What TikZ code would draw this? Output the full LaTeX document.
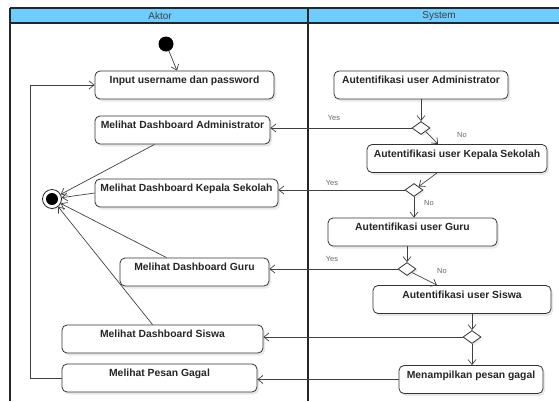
\documentclass[tikz,border=0pt]{standalone}
\usepackage{fontspec}
\setmainfont{Liberation Sans}
\usetikzlibrary{arrows.meta,shapes.geometric,shadows,calc}
\definecolor{hdr}{RGB}{110,204,255}
\begin{document}
\begin{tikzpicture}[x=1bp,y=-1bp,
  box/.style={draw=black!80, line width=0.8bp, rounded corners=5bp, fill=white,
    font=\fontsize{10.4}{12}\selectfont\bfseries, text=black!85, inner xsep=2bp, inner ysep=0pt,
    text height=12.5bp, text depth=15.5bp, minimum width=#1,
    drop shadow={shadow xshift=2bp, shadow yshift=-2.5bp, opacity=0.18}},
  dia/.style={diamond, draw=black!80, fill=white, line width=0.8bp,
    minimum width=18bp, minimum height=13bp, inner sep=0pt,
    drop shadow={shadow xshift=2bp, shadow yshift=-2bp, opacity=0.15}},
  arr/.style={draw=black!75, line width=0.7bp, -{Straight Barb[length=5bp,width=8bp]}},
  conn/.style={draw=black!75, line width=0.7bp},
  lbl/.style={font=\fontsize{7.5}{9}\selectfont, text=black!60, inner sep=0pt},
  hdrtext/.style={font=\fontsize{10}{12}\selectfont, text=black!75, inner sep=0pt},
  frame/.style={draw=black!85, line width=1.5bp}
]
\useasboundingbox (0,0) rectangle (559,401);
% swimlanes
\fill[hdr] (10,8) rectangle (559,23);
\draw[frame] (10,8) -- (559,8);
\draw[frame] (10,23) -- (559,23);
\draw[frame] (10,8) -- (10,401);
\draw[frame] (308,8) -- (308,401);
\node[hdrtext] (hA) at (160,16) {Aktor};
\node[hdrtext] (hS) at (439,16) {System};

% actor lane
\node[circle, fill=black, minimum size=15bp, inner sep=0pt] (start) at (166,44) {};
\node[box=179bp] (input)  at (184.5,85)  {Input username dan password};
\node[box=175bp] (vadmin) at (182.5,130) {Melihat Dashboard Administrator};
\node[box=183bp] (vks)    at (186.5,193) {Melihat Dashboard Kepala Sekolah};
\node[box=149bp] (vguru)  at (194.5,272) {Melihat Dashboard Guru};
\node[box=201bp] (vsiswa) at (162.5,339) {Melihat Dashboard Siswa};
\node[box=195bp] (vgagal) at (159.5,378) {Melihat Pesan Gagal};
\node[circle, draw=black!85, fill=white, line width=0.8bp, minimum size=19bp, inner sep=0pt,
  drop shadow={shadow xshift=1.5bp, shadow yshift=-1.5bp, opacity=0.15}] (fin) at (52,199) {};
\node[circle, fill=black, minimum size=12bp, inner sep=0pt] (finin) at (fin) {};

% system lane
\node[box=174bp] (aadmin) at (421,85)    {Autentifikasi user Administrator};
\node[dia] (d1) at (421,128) {};
\node[box=180bp] (aks)    at (457,158.5) {Autentifikasi user Kepala Sekolah};
\node[dia] (d2) at (414,190) {};
\node[box=169bp] (aguru)  at (412.5,232) {Autentifikasi user Guru};
\node[dia] (d3) at (407,269) {};
\node[box=178bp] (asiswa) at (462,299.5) {Autentifikasi user Siswa};
\node[dia] (d4) at (472,337) {};
\node[box=144bp] (agagal) at (471,379.5) {Menampilkan pesan gagal};

% labels
\node[lbl] (y1) at (334,118) {Yes};
\node[lbl] (n1) at (462,135) {No};
\node[lbl] (y2) at (332,183) {Yes};
\node[lbl] (n2) at (429,203) {No};
\node[lbl] (y3) at (332,259) {Yes};
\node[lbl] (n3) at (442,271) {No};

% connectors
\draw[arr] (start) -- ($(input.north)+(-7.5,0)$);
\draw[arr] (aadmin.south) -- (d1.north);
\draw[arr] (d1.west) -- (d1.west -| vadmin.east);
\draw[arr] (d1.south east) -- ($(aks.north)+(-19,0)$);
\draw[arr] ($(aks.south)+(-20,0)$) -- (d2.north east);
\draw[arr] (d2.west) -- (d2.west -| vks.east);
\draw[arr] (d2.south) -- (d2.south |- aguru.north);
\draw[arr] (d3.north |- aguru.south) -- (d3.north);
\draw[arr] (d3.west) -- (d3.west -| vguru.east);
\draw[arr] (d3.south east) -- ($(asiswa.north)+(-25,0)$);
\draw[arr] (d4.north |- asiswa.south) -- (d4.north);
\draw[arr] (d4.west) -- (d4.west -| vsiswa.east);
\draw[arr] (d4.south) -- (d4.south |- agagal.north);
\draw[arr] (agagal.west) -- (agagal.west -| vgagal.east);
\coordinate (rb) at (30,378);
\coordinate (rt) at (30,85);
\draw[arr] (vgagal.west) -- (rb) -- (rt) -- (input.west);
\draw[arr] ($(vadmin.south)+(-28,0)$) -- (fin);
\draw[arr] (vks.west) -- (fin);
\draw[arr] ($(vguru.north)+(-28,0)$) -- (fin);
\draw[arr] ($(vsiswa.north)+(-10,0)$) -- (fin);
\end{tikzpicture}
\end{document}
